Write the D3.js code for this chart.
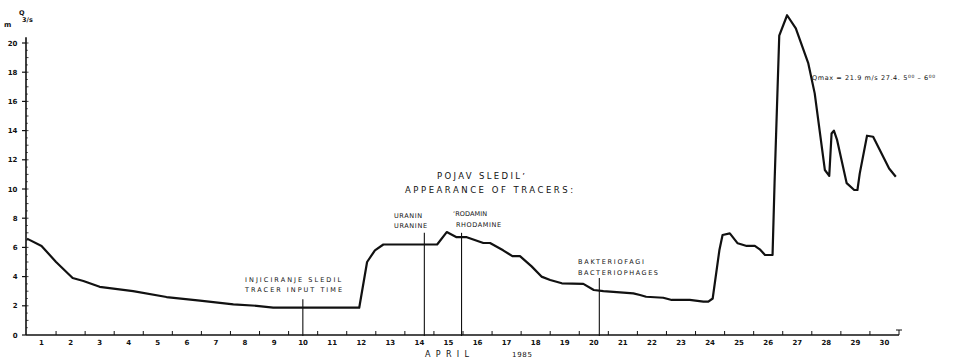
<!DOCTYPE html>
<html>
<head>
<meta charset="utf-8">
<script src="https://cdn.jsdelivr.net/npm/d3@7"></script>
<style>
  body { margin: 0; background: #fff; }
  svg { display: block; font-family: "DejaVu Sans", sans-serif; }
</style>
</head>
<body>
<svg id="chart"></svg>
<script>
var width = 965, height = 359;
var svg = d3.select("#chart").attr("width", width).attr("height", height);

// time in days since 1 April 00:00, discharge in m3/s
var days = [0, 0.5, 1.0, 1.57, 1.94, 2.5, 3.65, 4.8, 5.95, 7.1, 7.9, 8.47, 11.43,
  11.7, 11.97, 12.26, 14.11, 14.44, 14.78, 15.13, 15.7, 15.93, 16.38, 16.7, 16.96,
  17.36, 17.7, 18.0, 18.4, 19.14, 19.5, 19.83, 20.86, 21.09, 21.3, 21.89, 22.18,
  22.8, 23.27, 23.44, 23.59, 23.82, 23.93, 24.18, 24.45, 24.76, 25.04, 25.21,
  25.39, 25.65, 25.72, 25.88, 26.15, 26.45, 26.88, 27.1, 27.45, 27.6, 27.68,
  27.76, 27.87, 28.2, 28.46, 28.57, 28.65, 28.9, 29.11, 29.66, 29.89];
var flow = [6.6, 6.1, 5.0, 3.9, 3.7, 3.3, 3.0, 2.6, 2.35, 2.1, 2.0, 1.87, 1.87,
  5.0, 5.8, 6.2, 6.2, 7.05, 6.7, 6.7, 6.3, 6.3, 5.8, 5.4, 5.4,
  4.7, 4.0, 3.77, 3.54, 3.5, 3.08, 3.0, 2.85, 2.74, 2.62, 2.55, 2.4,
  2.4, 2.28, 2.28, 2.5, 5.8, 6.85, 6.96, 6.28, 6.1, 6.1, 5.87,
  5.48, 5.48, 10.5, 20.5, 21.9, 21.0, 18.6, 16.55, 11.3, 10.9, 13.8,
  14.0, 13.36, 10.4, 9.93, 9.93, 11.07, 13.65, 13.58, 11.4, 10.84];

var dayLabels = d3.range(1, 31);
var yTicks = [0, 2, 4, 6, 8, 10, 12, 14, 16, 18, 20];

// tracer markers: time and top of the vertical line
var markerDays = [9.49, 13.67, 14.95, 19.69];
var markerTops = [2.45, 7.0, 7.0, 3.9];
var markerText1 = ["INJICIRANJE  SLEDIL", "URANIN", "\u02BBRODAMIN", "BAKTERIOFAGI"];
var markerText2 = ["TRACER  INPUT  TIME", "URANINE", "RHODAMINE", "BACTERIOPHAGES"];

var x = d3.scaleLinear().domain([0, 30]).range([27, 899]);
var y = d3.scaleLinear().domain([0, 20]).range([335, 43]);

var ink = "#111";

// y axis
svg.append("line").attr("x1", 26).attr("x2", 26)
  .attr("y1", y(0)).attr("y2", y(20.4))
  .attr("stroke", ink).attr("stroke-width", 1.6);

svg.selectAll(".ytick").data(yTicks).enter().append("line")
  .attr("x1", 22).attr("x2", 26)
  .attr("y1", function (d) { return y(d); }).attr("y2", function (d) { return y(d); })
  .attr("stroke", ink).attr("stroke-width", 1.2);

svg.selectAll(".yminor").data(d3.range(0.5, 20.5, 0.5)).enter().append("line")
  .attr("x1", 26).attr("x2", function (d) { return d % 1 === 0 ? 28.5 : 27.8; })
  .attr("y1", function (d) { return y(d); }).attr("y2", function (d) { return y(d); })
  .attr("stroke", ink).attr("stroke-width", 0.8);

svg.selectAll(".ylab").data(yTicks).enter().append("text")
  .attr("x", 17.5).attr("y", function (d) { return y(d) + 2.5; })
  .attr("text-anchor", "end").attr("font-size", 7).attr("font-weight", "bold")
  .attr("fill", ink)
  .text(function (d) { return d; });

// unit label
svg.append("text").attr("x", 19).attr("y", 15).attr("font-size", 6.5)
  .attr("font-weight", "bold").attr("fill", ink).text("Q");
svg.append("text").attr("x", 4).attr("y", 27).attr("font-size", 7)
  .attr("font-weight", "bold").attr("fill", ink).text("m");
svg.append("text").attr("x", 22).attr("y", 22).attr("font-size", 6.5)
  .attr("font-weight", "bold").attr("fill", ink).text("3/s");

// x axis
svg.append("line").attr("x1", 26).attr("x2", x(30))
  .attr("y1", y(0)).attr("y2", y(0))
  .attr("stroke", ink).attr("stroke-width", 1.6);

svg.selectAll(".xtick").data(d3.range(1, 31)).enter().append("line")
  .attr("x1", function (d) { return x(d); }).attr("x2", function (d) { return x(d); })
  .attr("y1", y(0)).attr("y2", function (d) { return d === 30 ? y(0) - 5 : y(0) - 4; })
  .attr("stroke", ink).attr("stroke-width", 1);
svg.append("line").attr("x1", x(30) - 3).attr("x2", x(30) + 3)
  .attr("y1", y(0) - 5).attr("y2", y(0) - 5).attr("stroke", ink).attr("stroke-width", 1);

svg.selectAll(".xlab").data(dayLabels).enter().append("text")
  .attr("x", function (d) { return x(d - 0.5); }).attr("y", 345)
  .attr("text-anchor", "middle").attr("font-size", 7).attr("font-weight", "bold")
  .attr("fill", ink)
  .text(function (d) { return d; });

svg.append("text").attr("x", 425).attr("y", 357).attr("font-size", 8)
  .attr("textLength", 44).attr("lengthAdjust", "spacing")
  .attr("fill", ink).text("APRIL");
svg.append("text").attr("x", 512).attr("y", 357).attr("font-size", 7)
  .attr("textLength", 20).attr("lengthAdjust", "spacing")
  .attr("fill", ink).text("1985");

// tracer markers
svg.selectAll(".marker").data(markerDays).enter().append("line")
  .attr("x1", function (d) { return x(d); }).attr("x2", function (d) { return x(d); })
  .attr("y1", function (d, i) { return y(markerTops[i]); }).attr("y2", y(0) + 1)
  .attr("stroke", ink).attr("stroke-width", 1.1);

var lab1X = [245, 394, 453, 578], lab1W = [96, 28, 34, 66];
var lab2X = [245, 394, 456, 578], lab2W = [97, 33, 45, 80];
var labY1 = [282, 218, 216, 264], labY2 = [292, 228, 227, 275];
markerText1.forEach(function (t, i) {
  svg.append("text").attr("x", lab1X[i]).attr("y", labY1[i]).attr("font-size", 6.5)
    .attr("textLength", lab1W[i]).attr("lengthAdjust", "spacing")
    .attr("fill", ink).text(t);
  svg.append("text").attr("x", lab2X[i]).attr("y", labY2[i]).attr("font-size", 6.5)
    .attr("textLength", lab2W[i]).attr("lengthAdjust", "spacing")
    .attr("fill", ink).text(markerText2[i]);
});

svg.append("text").attr("x", 437).attr("y", 179).attr("font-size", 8.5)
  .attr("textLength", 88).attr("lengthAdjust", "spacing")
  .attr("fill", ink).text("POJAV  SLEDIL\u02BC");
svg.append("text").attr("x", 405).attr("y", 193).attr("font-size", 8.5)
  .attr("textLength", 168).attr("lengthAdjust", "spacing")
  .attr("fill", ink).text("APPEARANCE  OF  TRACERS:");

// discharge line
var pts = days.map(function (d, i) { return [d, flow[i]]; });
var line = d3.line()
  .x(function (d) { return x(d[0]); })
  .y(function (d) { return y(d[1]); });
svg.append("path").datum(pts)
  .attr("d", line)
  .attr("fill", "none").attr("stroke", ink).attr("stroke-width", 2.2)
  .attr("stroke-linejoin", "round");

// Qmax annotation
var q = svg.append("text").attr("x", 812).attr("y", 80).attr("font-size", 6.5)
  .attr("letter-spacing", 0.6).attr("fill", ink);
q.append("tspan").text("Qmax = 21.9 m/s  27.4.   5");
q.append("tspan").attr("dy", -2).attr("font-size", 4.5).text("00");
q.append("tspan").attr("dy", 2).text(" \u2013 6");
q.append("tspan").attr("dy", -2).attr("font-size", 4.5).text("00");
</script>
</body>
</html>
